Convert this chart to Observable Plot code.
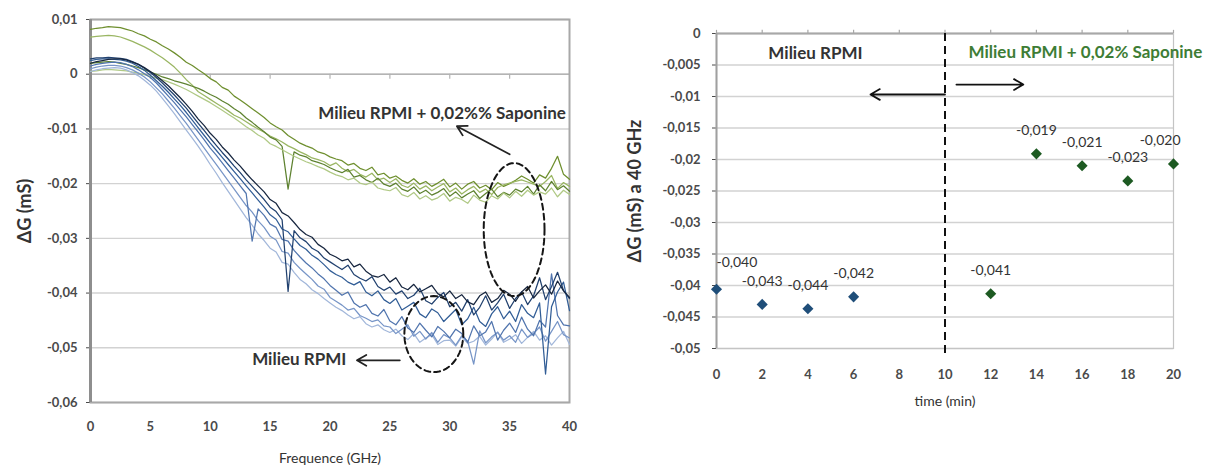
<!DOCTYPE html>
<html><head><meta charset="utf-8">
<script src="https://cdn.jsdelivr.net/npm/d3@7"></script>
<script src="https://cdn.jsdelivr.net/npm/@observablehq/plot@0.6"></script>
<style>
body{margin:0;background:#fff;}
#wrap{display:flex;width:1208px;height:465px;overflow:hidden;}
</style></head><body><div id="wrap"></div>
<script>
// ---------- Left panel: ΔG spectra (values in units of 1e-4 mS) ----------
const freq = [0,0.5,1,1.5,2,2.5,3,3.5,4,4.5,5,5.5,6,6.5,7,7.5,8,8.5,9,9.5,10,10.5,11,11.5,12,12.5,13,13.5,14,14.5,15,15.5,16,16.5,17,17.5,18,18.5,19,19.5,20,20.5,21,21.5,22,22.5,23,23.5,24,24.5,25,25.5,26,26.5,27,27.5,28,28.5,29,29.5,30,30.5,31,31.5,32,32.5,33,33.5,34,34.5,35,35.5,36,36.5,37,37.5,38,38.5,39,39.5,40];
const sapo1 = [82,84,85,87,86,85,82,79,74,70, 64,59,52,46,39,31,22,16,8,1, -8,-14,-24,-29,-40,-47,-55,-63,-71,-79, -89,-96,-102,-112,-119,-126,-131,-135,-142,-145, -151,-155,-158,-166,-163,-172,-176,-170,-184,-181, -190,-186,-194,-199,-191,-201,-196,-205,-199,-192, -206,-199,-210,-201,-196,-208,-203,-211,-198,-205, -200,-194,-186,-192,-199,-184,-190,-172,-150,-183, -192];
const sapo2 = [68,69,70,71,70,68,64,60,55,50, 44,37,30,22,13,2,-10,-20,-32,-39, -46,-53,-60,-67,-75,-80,-87,-94,-100,-106, -113,-118,-124,-131,-136,-142,-147,-153,-156,-160, -167,-162,-172,-178,-174,-183,-188,-181,-193,-190, -198,-191,-203,-207,-199,-210,-204,-213,-206,-200, -215,-208,-219,-211,-205,-216,-210,-220,-207,-202, -199,-196,-193,-197,-201,-205,-196,-185,-209,-198, -205];
const sapo3 = [20,21,22,23,22,20,18,15,12,8, 4,0,-5,-8,-12,-15,-18,-22,-26,-31, -37,-42,-49,-55,-63,-70,-80,-88,-97,-105, -115,-120,-132,-210,-142,-148,-151,-158,-161,-165, -171,-176,-180,-174,-188,-185,-193,-198,-190,-201, -205,-199,-210,-214,-206,-218,-212,-221,-216,-209, -223,-215,-226,-219,-213,-227,-218,-210,-224,-216, -221,-210,-215,-205,-219,-202,-213,-196,-211,-204, -214];
const sapo4 = [5,6,8,9,8,7,6,4,2,-1, -4,-7,-10,-14,-18,-23,-28,-34,-40,-46, -52,-59,-66,-73,-80,-88,-96,-103,-111,-117, -127,-132,-138,-144,-150,-155,-160,-164,-169,-173, -179,-184,-187,-193,-190,-199,-202,-197,-208,-211, -213,-207,-220,-224,-216,-228,-222,-230,-226,-218, -232,-225,-229,-236,-221,-230,-234,-222,-228,-217, -226,-214,-223,-212,-221,-215,-219,-208,-224,-212, -220];
const rpmi1 = [20,23,25,27,28,28,26,22,18,12, 5,-3,-12,-21,-32,-43,-55,-68,-82,-94, -108,-119,-133,-144,-157,-168,-181,-193,-204,-215, -229,-236,-253,-259,-271,-284,-293,-298,-311,-318, -329,-334,-341,-338,-352,-347,-360,-368,-371,-366, -380,-372,-389,-394,-384,-398,-392,-386,-401,-407, -396,-410,-403,-416,-421,-405,-398,-417,-410,-395, -402,-415,-398,-388,-409,-396,-385,-402,-378,-396, -408];
const rpmi2 = [28,30,30,31,30,29,27,23,18,11, 3,-6,-16,-27,-38,-50,-62,-76,-90,-103, -117,-130,-143,-155,-168,-180,-193,-205,-217,-229, -243,-251,-266,-397,-286,-299,-306,-318,-324,-336, -343,-350,-357,-349,-366,-373,-378,-370,-388,-395, -389,-402,-396,-410,-404,-391,-414,-420,-408,-399, -425,-417,-433,-412,-440,-426,-405,-431,-418,-402, -428,-410,-398,-421,-405,-372,-412,-388,-362,-395, -410];
const rpmi3 = [25,27,28,28,27,26,24,20,14,7, -2,-12,-22,-33,-45,-57,-70,-84,-98,-112, -126,-139,-152,-165,-178,-191,-204,-217,-230,-243, -257,-265,-283,-288,-301,-313,-320,-331,-338,-348, -359,-366,-371,-380,-385,-379,-398,-405,-396,-412, -419,-410,-431,-424,-417,-438,-445,-429,-436,-452, -441,-430,-458,-447,-426,-452,-461,-438,-425,-447, -433,-452,-421,-437,-445,-418,-548,-425,-398,-380, -432];
const rpmi4 = [15,18,20,21,22,21,18,14,8,1, -6,-16,-28,-40,-52,-65,-78,-92,-106,-120, -135,-148,-162,-176,-190,-204,-218,-305,-246,-258, -274,-280,-302,-305,-322,-334,-345,-354,-365,-374, -386,-395,-404,-398,-418,-426,-421,-437,-442,-430, -451,-458,-443,-464,-472,-455,-468,-480,-461,-470, -482,-466,-474,-490,-460,-478,-471,-452,-486,-468, -455,-472,-444,-466,-478,-450,-462,-365,-441,-458, -460];
const rpmi5 = [10,13,15,16,16,15,12,8,2,-5, -14,-25,-36,-49,-62,-76,-90,-105,-120,-135, -150,-165,-180,-195,-210,-225,-240,-252,-268,-280, -296,-303,-324,-327,-344,-355,-365,-375,-387,-393, -408,-415,-422,-431,-428,-441,-446,-452,-449,-460, -462,-474,-466,-458,-479,-470,-484,-472,-490,-476, -482,-495,-478,-488,-530,-469,-491,-480,-472,-486, -478,-490,-466,-481,-474,-462,-488,-470,-452,-476, -482];
const rpmi6 = [5,8,10,11,12,11,8,3,-3,-11, -20,-31,-44,-58,-72,-87,-102,-117,-132,-148, -165,-181,-198,-214,-230,-246,-262,-276,-292,-304, -318,-325,-344,-347,-362,-375,-383,-394,-401,-410, -418,-426,-432,-440,-447,-443,-456,-462,-458,-467, -472,-466,-478,-485,-474,-490,-482,-476,-494,-487, -486,-497,-480,-492,-488,-479,-495,-484,-471,-490, -484,-476,-492,-481,-470,-486,-478,-495,-482,-470, -494];
const seriesNames = ["sapo1","sapo2","sapo3","sapo4","rpmi6","rpmi5","rpmi4","rpmi3","rpmi2","rpmi1"];
const seriesColors = ["#6e8f2e","#9ab663","#5e8230","#b0c985","#a2b7da","#7795c7","#5175ae","#315d96","#21416f","#17263f"];
const xTicksL = [0,5,10,15,20,25,30,35,40];
const yTicksL = [0.01,0,-0.01,-0.02,-0.03,-0.04,-0.05,-0.06];
const yTickLabelsL = ["0,01","0","-0,01","-0,02","-0,03","-0,04","-0,05","-0,06"];
// annotation ellipses (GHz, mS)
const ellCx = [35.375, 28.67];
const ellCy = [-0.0284, -0.0475];
const ellRx = [2.54, 2.46];
const ellRy = [0.01216, 0.00695];

// ---------- Right panel: ΔG at 40 GHz vs time ----------
const times = [0,2,4,6,12,14,16,18,20];
const dG40 = [-0.0406,-0.0430,-0.0437,-0.0418,-0.0413,-0.0191,-0.0210,-0.0234,-0.0207];
const dGLabels = ["-0,040","-0,043","-0,044","-0,042","-0,041","-0,019","-0,021","-0,023","-0,020"];
const medium = ["RPMI","RPMI","RPMI","RPMI","Sapo","Sapo","Sapo","Sapo","Sapo"];
const xTicksR = [0,2,4,6,8,10,12,14,16,18,20];
const yTicksR = [0,-0.005,-0.01,-0.015,-0.02,-0.025,-0.03,-0.035,-0.04,-0.045,-0.05];
const yTickLabelsR = ["0","-0,005","-0,01","-0,015","-0,02","-0,025","-0,03","-0,035","-0,04","-0,045","-0,05"];

// ---------- build tables ----------
const seriesArrays = {sapo1, sapo2, sapo3, sapo4, rpmi1, rpmi2, rpmi3, rpmi4, rpmi5, rpmi6};
const spectra = [];
for (const s of seriesNames) seriesArrays[s].forEach((v, i) => spectra.push({f: freq[i], g: v / 10000, s}));
const ellPts = [];
ellCx.forEach((cx, k) => {
  for (let a = 0; a <= 72; a++) {
    const t = a / 72 * 2 * Math.PI;
    ellPts.push({id: k, x: cx + ellRx[k] * Math.cos(t), y: ellCy[k] + ellRy[k] * Math.sin(t)});
  }
});
const pts = times.map((t, i) => ({t, g: dG40[i], lab: dGLabels[i], m: medium[i]}));
const lblL = new Map(yTicksL.map((v, i) => [v, yTickLabelsL[i]]));
const lblR = new Map(yTicksR.map((v, i) => [v, yTickLabelsR[i]]));

const font = "Lato, 'Open Sans', sans-serif";
const baseStyle = {fontFamily: font, fontSize: "13px", fontWeight: "bold", color: "#4a4a4a", background: "white", overflow: "visible"};

const left = Plot.plot({
  width: 600, height: 465,
  marginLeft: 90, marginRight: 31, marginTop: 19, marginBottom: 63,
  style: baseStyle,
  x: {domain: [0, 40], ticks: xTicksL, tickFormat: d => String(d), tickSize: 0, tickPadding: 19, label: null},
  y: {domain: [-0.06, 0.01], ticks: yTicksL, tickFormat: d => lblL.get(d), tickSize: 4, tickPadding: 9, label: null},
  color: {domain: seriesNames, range: seriesColors},
  marks: [
    Plot.ruleY(yTicksL, {stroke: "#d2d2d2", strokeWidth: 1.4}),
    Plot.ruleY([0], {stroke: "#b4b4b4", strokeWidth: 1.6}),
    Plot.ruleX(xTicksL.slice(1, -1), {y1: 0, y2: -0.0009, stroke: "#b4b4b4", strokeWidth: 1.2}),
    Plot.frame({stroke: "#a8a8a8", strokeWidth: 2}),
    Plot.ruleX([0], {stroke: "#8e8e8e", strokeWidth: 3}),
    Plot.line(spectra, {x: "f", y: "g", z: "s", stroke: "s", strokeWidth: 1.25, curve: "linear"}),
    Plot.line(ellPts, {x: "x", y: "y", z: "id", stroke: "#151515", strokeWidth: 2, strokeDasharray: "6,4"}),
    Plot.text(["Milieu RPMI + 0,02%% Saponine"], {x: 39.7, y: -0.00713, textAnchor: "end", fontSize: 17, fontWeight: "bold", fill: "#333"}),
    Plot.arrow([{x1: 35, y1: -0.01463, x2: 30.6, y2: -0.0095}], {x1: "x1", y1: "y1", x2: "x2", y2: "y2", stroke: "#222", strokeWidth: 1.8, headLength: 9}),
    Plot.text(["Milieu RPMI"], {x: 13.5, y: -0.0521, textAnchor: "start", fontSize: 17, fontWeight: "bold", fill: "#333"}),
    Plot.arrow([{x1: 25.83, y1: -0.05229, x2: 22.25, y2: -0.05229}], {x1: "x1", y1: "y1", x2: "x2", y2: "y2", stroke: "#222", strokeWidth: 1.8, headLength: 9}),
    Plot.text(["ΔG (mS)"], {frameAnchor: "left", dx: -65, rotate: -90, textAnchor: "middle", lineAnchor: "middle", fontSize: 18, fontWeight: "bold", fill: "#333"}),
    Plot.text(["Frequence (GHz)"], {frameAnchor: "bottom", dy: 56, textAnchor: "middle", lineAnchor: "middle", fontSize: 14, fontWeight: "normal", fill: "#333"})
  ]
});

const right = Plot.plot({
  width: 608, height: 465,
  marginLeft: 116, marginRight: 35, marginTop: 33, marginBottom: 117,
  style: baseStyle,
  x: {domain: [0, 20], ticks: xTicksR, tickFormat: d => String(d), tickSize: 0, tickPadding: 21, label: null},
  y: {domain: [-0.05, 0], ticks: yTicksR, tickFormat: d => lblR.get(d), tickSize: 4, tickPadding: 12, label: null},
  color: {domain: ["RPMI", "Sapo"], range: ["#1f4e79", "#1d5a22"]},
  marks: [
    Plot.ruleY(yTicksR, {stroke: "#d2d2d2", strokeWidth: 1.4}),
    Plot.frame({stroke: "#c4c4c4", strokeWidth: 1.2}),
    Plot.ruleX(xTicksR, {y1: 0, y2: 0.0005, stroke: "#a8a8a8", strokeWidth: 1.2}),
    Plot.ruleY([0], {stroke: "#a8a8a8", strokeWidth: 1.8}),
    Plot.ruleX([0], {stroke: "#a0a0a0", strokeWidth: 2}),
    Plot.ruleX([10], {y1: 0, y2: -0.0511, stroke: "#111", strokeWidth: 2, strokeDasharray: "8,5"}),
    Plot.arrow([{x1: 10, y1: -0.00968, x2: 6.74, y2: -0.00968}], {x1: "x1", y1: "y1", x2: "x2", y2: "y2", stroke: "#111", strokeWidth: 1.8, headLength: 9}),
    Plot.arrow([{x1: 10.5, y1: -0.0081, x2: 13.43, y2: -0.0081}], {x1: "x1", y1: "y1", x2: "x2", y2: "y2", stroke: "#111", strokeWidth: 1.8, headLength: 9}),
    Plot.text(["Milieu RPMI"], {x: 4.33, y: -0.0032, textAnchor: "middle", fontSize: 17, fontWeight: "bold", fill: "#333"}),
    Plot.text(["Milieu RPMI + 0,02% Saponine"], {x: 11.03, y: -0.0030, textAnchor: "start", fontSize: 17, fontWeight: "bold", fill: "#3e7d35"}),
    Plot.dot(pts, {x: "t", y: "g", fill: "m", symbol: "diamond2", r: 5, stroke: "none"}),
    Plot.text(pts.slice(0, 1), {x: "t", y: "g", text: "lab", dy: -27, textAnchor: "start", fontSize: 14, fontWeight: "normal", fill: "#333"}),
    Plot.text(pts.slice(1, -1), {x: "t", y: "g", text: "lab", dy: -23, textAnchor: "middle", fontSize: 14, fontWeight: "normal", fill: "#333"}),
    Plot.text(pts.slice(-1), {x: "t", y: "g", text: "lab", dy: -23, dx: 7, textAnchor: "end", fontSize: 14, fontWeight: "normal", fill: "#333"}),
    Plot.text(["ΔG (mS) a 40 GHz"], {frameAnchor: "left", dx: -81, rotate: -90, textAnchor: "middle", lineAnchor: "middle", fontSize: 18, fontWeight: "bold", fill: "#333"}),
    Plot.text(["time (min)"], {frameAnchor: "bottom", dy: 53, textAnchor: "middle", lineAnchor: "middle", fontSize: 14, fontWeight: "normal", fill: "#333"})
  ]
});

document.getElementById("wrap").append(left, right);
</script>
</body></html>
